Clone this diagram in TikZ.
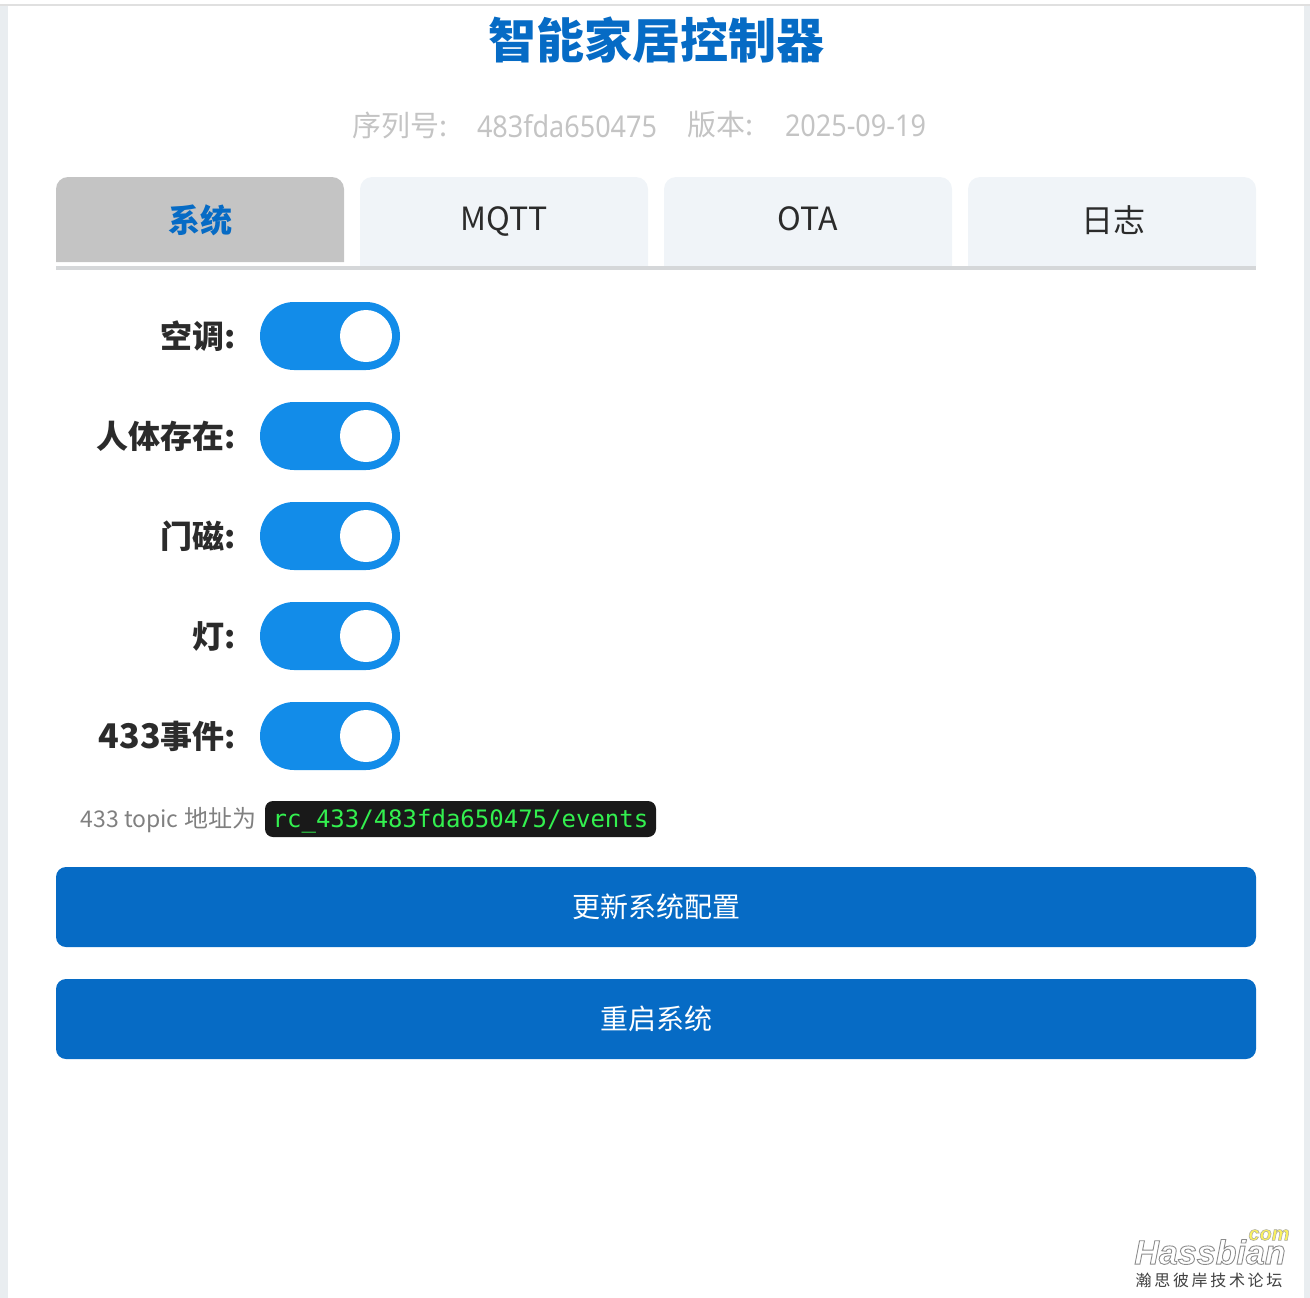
\documentclass[tikz,border=0pt]{standalone}
\usepackage{fontspec}
\setmainfont{Noto Sans CJK SC}
\newfontfamily\narrowfont[FakeStretch=0.9]{Noto Sans}
\setmonofont{DejaVu Sans Mono}
\newfontfamily\markfont{Liberation Sans Bold Italic}
\newcommand{\hollow}[2]{\special{pdf:code 2 Tr #2 w #1 G}}
\definecolor{brandblue}{HTML}{066BC5}
\definecolor{switchblue}{HTML}{128CE9}
\definecolor{tabgrey}{HTML}{C4C4C4}
\definecolor{tabpale}{HTML}{F0F4F8}
\definecolor{linegrey}{HTML}{D5D7D9}
\definecolor{stripgrey}{HTML}{E9EDF0}
\definecolor{labeldark}{HTML}{2B2B2B}
\definecolor{codegreen}{HTML}{33F04F}
\definecolor{markyellow}{HTML}{FBF25E}
\tikzset{
	px/.style={inner sep=0pt, outer sep=0pt},
	tabtext/.style={px, text=labeldark, font=\fontsize{32}{32}\selectfont},
	rowlabel/.style={px, anchor=east, text=labeldark, font=\fontsize{32}{32}\selectfont\bfseries},
	btntext/.style={px, text=white, font=\fontsize{28}{28}\selectfont},
	subtext/.style={px, text=tabgrey, font=\fontsize{29}{29}\selectfont},
	switchbody/.style={fill=switchblue, rounded corners=34pt},
	btnbody/.style={fill=brandblue, rounded corners=10pt},
}
\begin{document}
\begin{tikzpicture}[x=1pt, y=-1pt]
	\useasboundingbox (0, 0) rectangle (1310, 1298);
	% page edges
	\fill[stripgrey] (0, 6) rectangle (8, 1298);
	\fill[stripgrey] (1304, 6) rectangle (1310, 1298);
	\fill[black!12] (0, 4) rectangle (1310, 6);
	% heading
	\node[px, text=brandblue, font=\fontsize{48}{48}\selectfont\bfseries] (title) at (656, 40) {智能家居控制器};
	\node[subtext, anchor=west] (serialkey) at (352, 125) {序列号:};
	\node[subtext, anchor=west, font=\fontsize{30}{30}\narrowfont] (serialval) at (477, 126) {483fda650475};
	\node[subtext, anchor=west] (verkey) at (687, 125) {版本:};
	\node[subtext, anchor=west, font=\fontsize{30}{30}\narrowfont] (verval) at (785, 126) {2025-09-19};
	% tabs
	\fill[tabgrey] (56, 262) [rounded corners=12pt] -- (56, 177) -- (344, 177) [sharp corners] -- (344, 262) -- cycle;
	\fill[tabpale] (360, 266) [rounded corners=12pt] -- (360, 177) -- (648, 177) [sharp corners] -- (648, 266) -- cycle;
	\fill[tabpale] (664, 266) [rounded corners=12pt] -- (664, 177) -- (952, 177) [sharp corners] -- (952, 266) -- cycle;
	\fill[tabpale] (968, 266) [rounded corners=12pt] -- (968, 177) -- (1256, 177) [sharp corners] -- (1256, 266) -- cycle;
	\fill[linegrey] (56, 266) rectangle (1256, 270);
	\node[tabtext, text=brandblue, font=\fontsize{32}{32}\selectfont\bfseries] (tabsys) at (200, 220) {系统};
	\node[tabtext] (tabmqtt) at (504, 222) {MQTT};
	\node[tabtext] (tabota) at (808, 219) {OTA};
	\node[tabtext] (tablog) at (1113, 220) {日志};
	% switches
	\fill[switchbody] (260, 302) rectangle (400, 370);
	\fill[white] (366, 336) circle (26);
	\node[rowlabel] (aircon) at (236, 336) {空调:};
	\fill[switchbody] (260, 402) rectangle (400, 470);
	\fill[white] (366, 436) circle (26);
	\node[rowlabel] (presence) at (236, 436) {人体存在:};
	\fill[switchbody] (260, 502) rectangle (400, 570);
	\fill[white] (366, 536) circle (26);
	\node[rowlabel] (door) at (236, 536) {门磁:};
	\fill[switchbody] (260, 602) rectangle (400, 670);
	\fill[white] (366, 636) circle (26);
	\node[rowlabel] (lamp) at (236, 636) {灯:};
	\fill[switchbody] (260, 702) rectangle (400, 770);
	\fill[white] (366, 736) circle (26);
	\node[rowlabel] (rfevent) at (236, 736) {{\fontsize{34}{32}\selectfont 433}事件:};
	% topic line
	\node[px, anchor=east, text=black!50, font=\fontsize{24}{24}\selectfont] (topickey) at (256, 820) {{\fontsize{23}{24}\selectfont 433 topic} 地址为};
	\fill[black!90, rounded corners=8pt] (265, 801) rectangle (656, 837);
	\node[px, text=codegreen, font=\fontsize{24}{24}\ttfamily] (topicval) at (460.5, 821) {rc\_433/483fda650475/events};
	% buttons
	\fill[btnbody] (56, 867) rectangle (1256, 947);
	\node[btntext] (btnsave) at (656, 907) {更新系统配置};
	\fill[btnbody] (56, 979) rectangle (1256, 1059);
	\node[btntext] (btnboot) at (656, 1019) {重启系统};
	% corner mark
	\node[px, text=white, font=\fontsize{34}{34}\markfont] (markname) at (1210, 1252) {\hollow{0.55}{0.9}Hassbian};
	\node[px, text=markyellow, font=\fontsize{20}{20}\markfont] (markcom) at (1269, 1235) {\hollow{0.65}{0.5}com};
	\node[px, text=black!75, font=\fontsize{16}{16}\selectfont] (markcn) at (1209, 1280) {瀚\,思\,彼\,岸\,技\,术\,论\,坛};
\end{tikzpicture}
\end{document}
